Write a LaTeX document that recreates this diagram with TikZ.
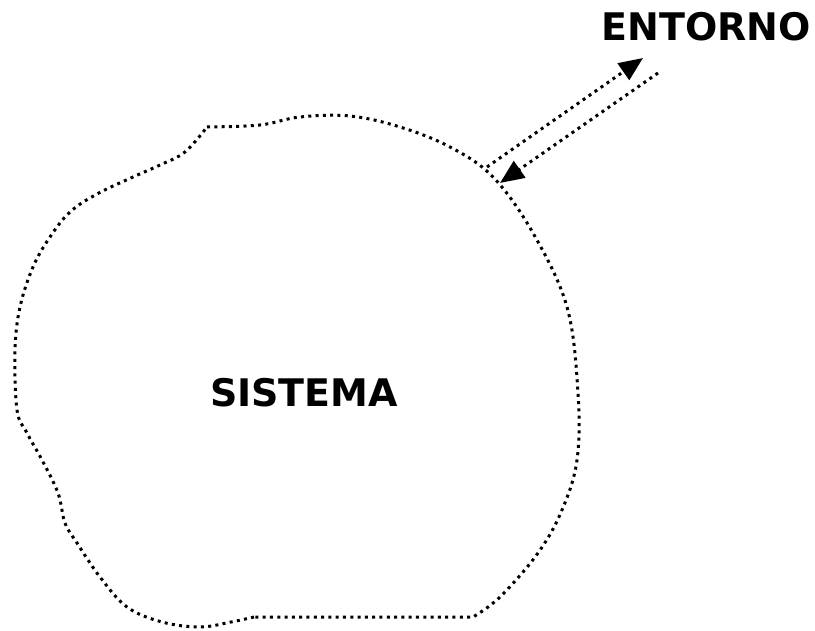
\documentclass[tikz,border=0pt]{standalone}
\usepackage{fontspec}
\setmainfont{DejaVu Sans}
\usetikzlibrary{arrows.meta}

\tikzset{
  dots/.style={line width=3pt, dash pattern=on 3pt off 4.3pt},
  flow/.style={dots, -{Triangle[length=24pt, width=20pt]}},
  label/.style={font=\fontsize{38}{41}\selectfont\bfseries, inner sep=0pt}
}

\begin{document}
\begin{tikzpicture}[x=1pt, y=-1pt]
  \useasboundingbox (0,0) rectangle (815,631);

  \coordinate (outA) at (487,167);
  \coordinate (outB) at (643,58);
  \coordinate (inA)  at (658,73);
  \coordinate (inB)  at (500,183);

  % frontera del sistema
  \draw[dots] plot[smooth, tension=0.6] coordinates {
      (207,127) (260,125) (300,117) (350,116) (400,127) (450,147) (493,177)
      (533,233) (567,307) (578,393) (577,460) (562,510) (538,553) (500,597) (473,617)}
    -- (254,617)
    plot[smooth, tension=0.6] coordinates {
      (254,617) (231,622) (200,627) (162,622) (127,607) (100,577) (77,543)
      (65,523) (58,493) (42,460) (27,433) (17,410) (15,350) (20,307) (33,267)
      (50,237) (70,212) (97,194) (133,177) (160,165) (185,152) (207,127)};

  \draw[flow] (outA) -- (outB);
  \draw[flow] (inA) -- (inB);

  \node[label] (sis) at (304,393) {SISTEMA};
  \node[label] (ent) at (706,27)  {ENTORNO};
\end{tikzpicture}
\end{document}
